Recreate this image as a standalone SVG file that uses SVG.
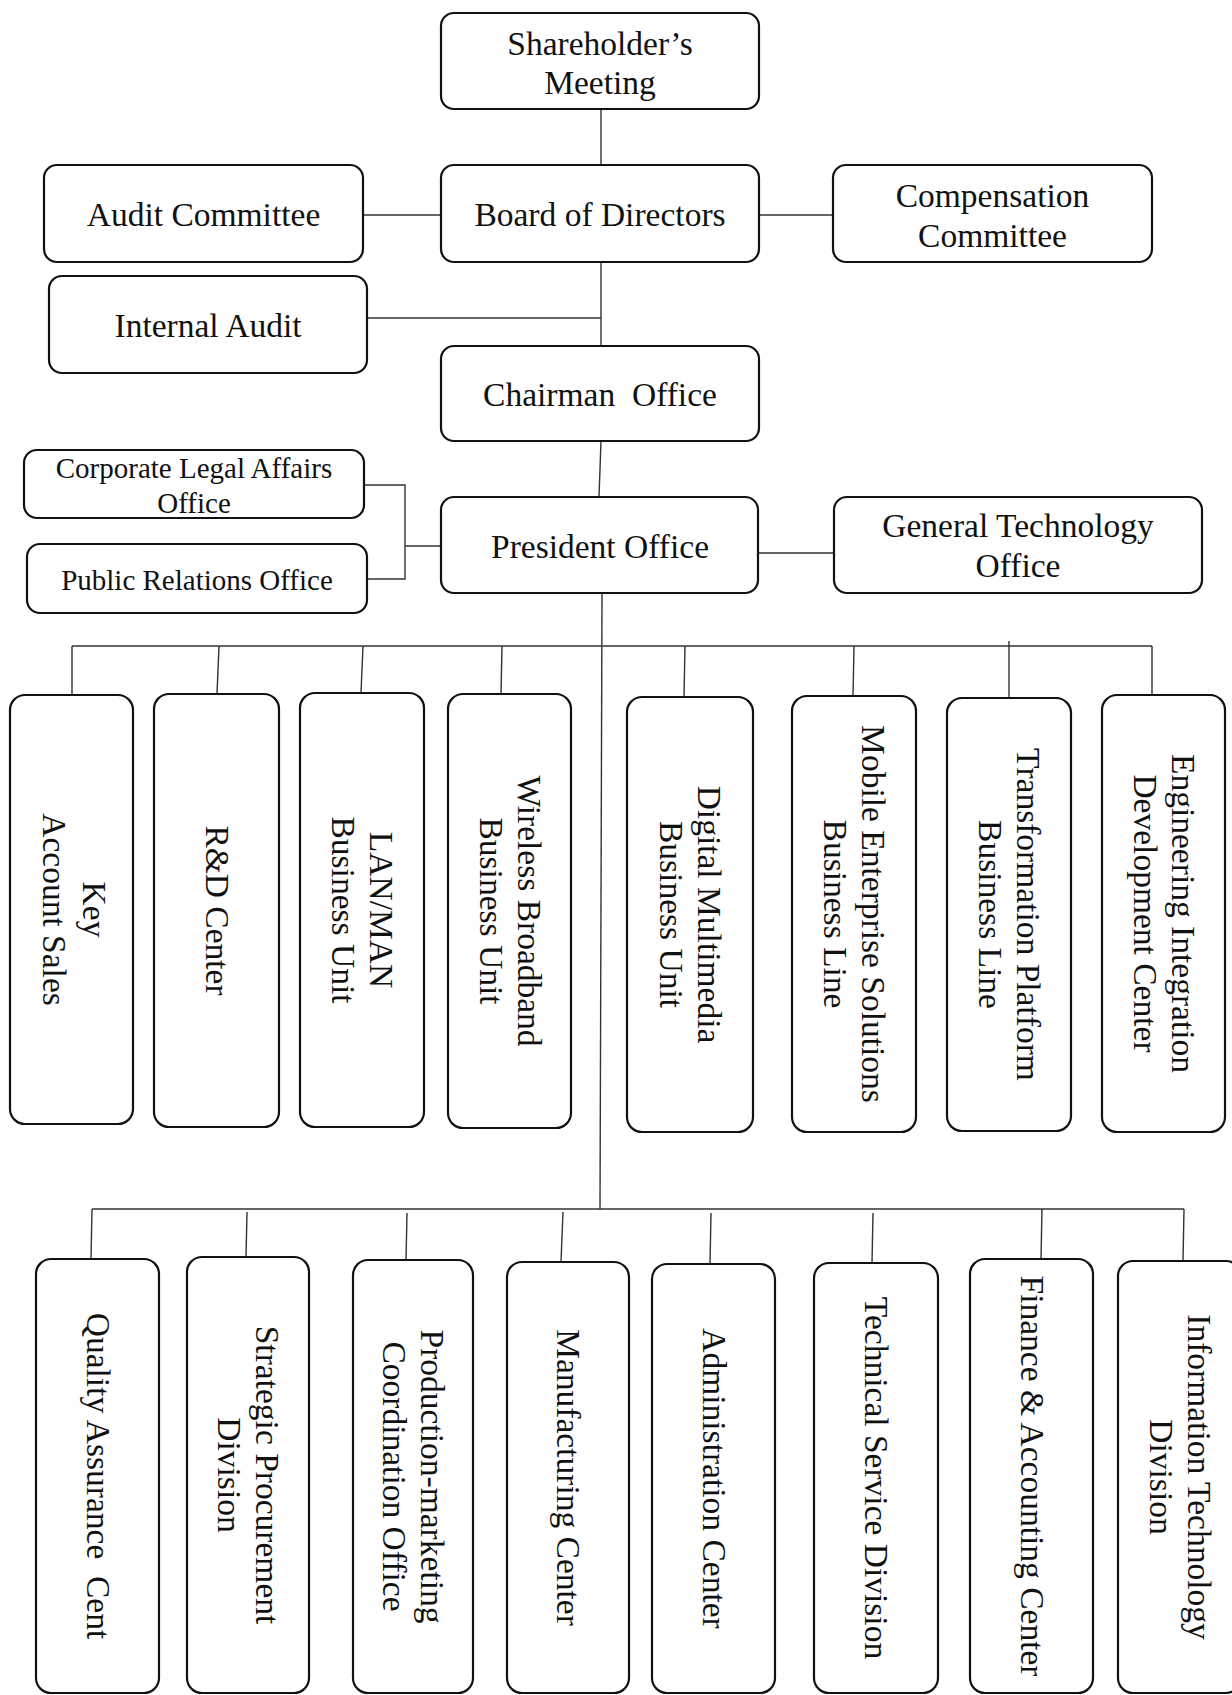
<svg xmlns="http://www.w3.org/2000/svg" width="1232" height="1695" viewBox="0 0 1232 1695">
<style>
.box{fill:#fff;stroke:#111;stroke-width:2.2}
.c{fill:none;stroke:#333;stroke-width:1.4}
text{font-family:"Liberation Serif","Times New Roman",serif;font-size:33.5px;fill:#111;text-anchor:middle}
.sm{font-size:29px}
</style>
<rect width="1232" height="1695" fill="#fff"/>
<g id="connectors">
<path class="c" d="M601,109V165"/>
<path class="c" d="M363,215H441"/>
<path class="c" d="M759,215H833"/>
<path class="c" d="M601,262V346"/>
<path class="c" d="M367,318H601"/>
<path class="c" d="M601,441L599,497"/>
<path class="c" d="M758,553H834"/>
<path class="c" d="M364,485H405V579H367"/>
<path class="c" d="M405,546H441"/>
<path class="c" d="M602,593L600,1209"/>
<path class="c" d="M72,646H1152"/>
<path class="c" d="M72,646V695"/>
<path class="c" d="M219,646L217,694"/>
<path class="c" d="M363,646L361,693"/>
<path class="c" d="M502,646L501,694"/>
<path class="c" d="M685,646L684,697"/>
<path class="c" d="M854,646L853,696"/>
<path class="c" d="M1009,641V698"/>
<path class="c" d="M1152,646V695"/>
<path class="c" d="M92,1209H1184"/>
<path class="c" d="M92,1209L91,1259"/>
<path class="c" d="M247,1212L246,1257"/>
<path class="c" d="M407,1213L406,1260"/>
<path class="c" d="M563,1212L561,1262"/>
<path class="c" d="M711,1213L710,1264"/>
<path class="c" d="M873,1213L872,1263"/>
<path class="c" d="M1042,1209L1041,1259"/>
<path class="c" d="M1184,1209L1183,1261"/>
</g>
<g id="shareholders-meeting"><rect class="box" x="441" y="13" width="318" height="96" rx="13"/><text x="600" y="55">Shareholder’s</text><text x="600" y="94">Meeting</text></g>
<g id="audit-committee"><rect class="box" x="44" y="165" width="319" height="97" rx="13"/><text x="203.5" y="226">Audit Committee</text></g>
<g id="board-of-directors"><rect class="box" x="441" y="165" width="318" height="97" rx="13"/><text x="600" y="226">Board of Directors</text></g>
<g id="compensation-committee"><rect class="box" x="833" y="165" width="319" height="97" rx="13"/><text x="992.5" y="207">Compensation</text><text x="992.5" y="247">Committee</text></g>
<g id="internal-audit"><rect class="box" x="49" y="276" width="318" height="97" rx="13"/><text x="208" y="337">Internal Audit</text></g>
<g id="chairman-office"><rect class="box" x="441" y="346" width="318" height="95" rx="13"/><text x="600" y="406" xml:space="preserve">Chairman  Office</text></g>
<g id="corporate-legal-affairs-office"><rect class="box" x="24" y="450" width="340" height="68" rx="13"/><text class="sm" x="194" y="478">Corporate Legal Affairs</text><text class="sm" x="194" y="513">Office</text></g>
<g id="public-relations-office"><rect class="box" x="27" y="544" width="340" height="69" rx="13"/><text class="sm" x="197" y="590">Public Relations Office</text></g>
<g id="president-office"><rect class="box" x="441" y="497" width="317" height="96" rx="13"/><text x="600" y="558">President Office</text></g>
<g id="general-technology-office"><rect class="box" x="834" y="497" width="368" height="96" rx="13"/><text x="1018" y="537">General Technology</text><text x="1018" y="577">Office</text></g>

<g id="key-account-sales"><rect class="box" x="10" y="695" width="123" height="429" rx="15"/><text transform="translate(71.5,909.5) rotate(90)"><tspan x="0" y="-11">Key</tspan><tspan x="0" y="29">Account Sales</tspan></text></g>
<g id="rd-center"><rect class="box" x="154" y="694" width="125" height="433" rx="15"/><text transform="translate(216.5,910.5) rotate(90)" y="11">R&amp;D Center</text></g>
<g id="lan-man-business-unit"><rect class="box" x="300" y="693" width="124" height="434" rx="15"/><text transform="translate(362,910) rotate(90)"><tspan x="0" y="-8">LAN/MAN</tspan><tspan x="0" y="30">Business Unit</tspan></text></g>
<g id="wireless-broadband-business-unit"><rect class="box" x="448" y="694" width="123" height="434" rx="15"/><text transform="translate(509.5,911) rotate(90)"><tspan x="0" y="-8">Wireless Broadband</tspan><tspan x="0" y="30">Business Unit</tspan></text></g>
<g id="digital-multimedia-business-unit"><rect class="box" x="627" y="697" width="126" height="435" rx="15"/><text transform="translate(690,914.5) rotate(90)"><tspan x="0" y="-8">Digital Multimedia</tspan><tspan x="0" y="30">Business Unit</tspan></text></g>
<g id="mobile-enterprise-solutions-business-line"><rect class="box" x="792" y="696" width="124" height="436" rx="15"/><text transform="translate(854,914) rotate(90)"><tspan x="0" y="-8">Mobile Enterprise Solutions</tspan><tspan x="0" y="30">Business Line</tspan></text></g>
<g id="transformation-platform-business-line"><rect class="box" x="947" y="698" width="124" height="433" rx="15"/><text transform="translate(1009,914.5) rotate(90)"><tspan x="0" y="-8">Transformation Platform</tspan><tspan x="0" y="30">Business Line</tspan></text></g>
<g id="engineering-integration-development-center"><rect class="box" x="1102" y="695" width="123" height="437" rx="15"/><text transform="translate(1163.5,913.5) rotate(90)"><tspan x="0" y="-8">Engineering Integration</tspan><tspan x="0" y="30">Development Center</tspan></text></g>

<g id="quality-assurance-cent"><rect class="box" x="36" y="1259" width="123" height="434" rx="15"/><text transform="translate(97.5,1476) rotate(90)" y="11" xml:space="preserve">Quality Assurance  Cent</text></g>
<g id="strategic-procurement-division"><rect class="box" x="187" y="1257" width="122" height="436" rx="15"/><text transform="translate(248,1475) rotate(90)"><tspan x="0" y="-8">Strategic Procurement</tspan><tspan x="0" y="30">Division</tspan></text></g>
<g id="production-marketing-coordination-office"><rect class="box" x="353" y="1260" width="120" height="433" rx="15"/><text transform="translate(413,1476.5) rotate(90)"><tspan x="0" y="-8">Production-marketing</tspan><tspan x="0" y="30">Coordination Office</tspan></text></g>
<g id="manufacturing-center"><rect class="box" x="507" y="1262" width="122" height="431" rx="15"/><text transform="translate(568,1477.5) rotate(90)" y="11">Manufacturing Center</text></g>
<g id="administration-center"><rect class="box" x="652" y="1264" width="123" height="429" rx="15"/><text transform="translate(713.5,1478.5) rotate(90)" y="11">Administration Center</text></g>
<g id="technical-service-division"><rect class="box" x="814" y="1263" width="124" height="430" rx="15"/><text transform="translate(876,1478) rotate(90)" y="11">Technical Service Division</text></g>
<g id="finance-accounting-center"><rect class="box" x="970" y="1259" width="123" height="434" rx="15"/><text transform="translate(1031.5,1476) rotate(90)" y="11">Finance &amp; Accounting Center</text></g>
<g id="information-technology-division"><rect class="box" x="1118" y="1261" width="123" height="432" rx="15"/><text transform="translate(1179.5,1477) rotate(90)"><tspan x="0" y="-8">Information Technology</tspan><tspan x="0" y="30">Division</tspan></text></g>
</svg>
